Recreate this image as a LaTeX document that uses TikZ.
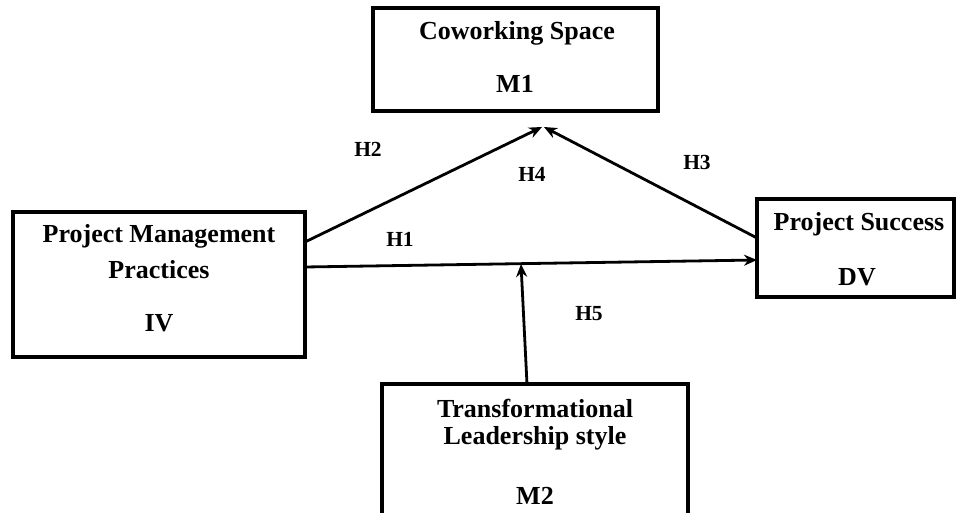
\documentclass[tikz,border=0pt]{standalone}
\usepackage{fontspec}
\setmainfont{Liberation Serif}
\usetikzlibrary{arrows.meta,calc}
\begin{document}
\begin{tikzpicture}[x=1pt,y=-1pt,
  box/.style={draw=black,line width=3.2pt,rectangle,inner sep=0pt,outer sep=0pt},
  lbl/.style={anchor=base,inner sep=0pt,font=\fontsize{26}{30}\selectfont\bfseries},
  hyp/.style={anchor=base,inner sep=0pt,font=\fontsize{21.5}{25}\selectfont\bfseries},
  link/.style={line width=2.8pt,-{Stealth[length=13pt,width=11pt]}}]
\clip (0,0) rectangle (956,513);
\fill[white] (0,0) rectangle (956,513);
% boxes
\node[box,minimum width=292pt,minimum height=145pt] (pmp) at (159,284.5) {};
\node[box,minimum width=285pt,minimum height=103pt] (m1) at (515.5,59.5) {};
\node[box,minimum width=197pt,minimum height=98pt] (ps) at (855.5,248) {};
\node[box,minimum width=306pt,minimum height=156pt] (tl) at (535,462) {};
% box texts
\node[lbl] (pmp1) at (159,243) {Project Management};
\node[lbl] (pmp2) at (159,278) {Practices};
\node[lbl] (pmp3) at (159,331) {IV};
\node[lbl] (m1a) at (517,40) {Coworking Space};
\node[lbl] (m1b) at (515,93) {M1};
\node[lbl] (psa) at (859,231) {Project Success};
\node[lbl] (psb) at (857,285) {DV};
\node[lbl] (tla) at (535,417) {Transformational};
\node[lbl] (tlb) at (535,444) {Leadership style};
\node[lbl] (tlc) at (535,504) {M2};
% connector points
\coordinate (tipA) at (542,127);
\coordinate (tipB) at (544,127);
\coordinate (h1end) at ($(ps.west)+(0,12)$);
\coordinate (h5end) at (521,264);
% connectors
\draw[link] ($(pmp.north east)+(0,30)$) -- (tipA);
\draw[link] ($(ps.north west)+(0,39)$) -- (tipB);
\draw[link] ($(pmp.north east)+(0,55)$) -- (h1end);
\draw[link] ($(tl.north)+(-8,0)$) -- (h5end);
% hypothesis labels
\node[hyp] (h1) at (400,247) {H1};
\node[hyp] (h2) at (368,157) {H2};
\node[hyp] (h3) at (697,170) {H3};
\node[hyp] (h4) at (532,182) {H4};
\node[hyp] (h5) at (589,320) {H5};
\end{tikzpicture}
\end{document}
